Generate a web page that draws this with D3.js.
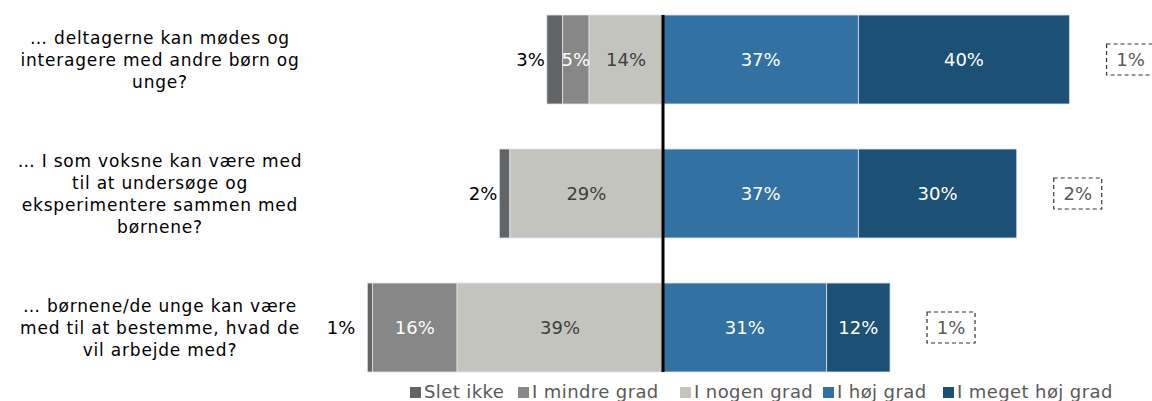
<!DOCTYPE html>
<head>
<meta charset="utf-8">
<script src="https://cdn.jsdelivr.net/npm/d3@7"></script>
<style>
body { margin: 0; background: #fff; }
svg text { font-family: Verdana, "DejaVu Sans", sans-serif; }
</style>
</head>
<body>
<div id="chart"></div>
<script>

// data
var questions = ["q1", "q2", "q3"];
var questionLines = [
  ["… deltagerne kan mødes og", "interagere med andre børn og", "unge?"],
  ["… I som voksne kan være med", "til at undersøge og", "eksperimentere sammen med", "børnene?"],
  ["… børnene/de unge kan være", "med til at bestemme, hvad de", "vil arbejde med?"]
];
var categories = ["Slet ikke", "I mindre grad", "I nogen grad", "I høj grad", "I meget høj grad"];
var sletIkke    = [3, 2, 1];
var mindreGrad  = [5, 0, 16];
var nogenGrad   = [14, 29, 39];
var hojGrad     = [37, 37, 31];
var megetHojGrad = [40, 30, 12];
var vedIkke     = [1, 2, 1];

var colors = ["#636466", "#878787", "#c4c4bf", "#3271a1", "#1d5075"];
var labelColors = ["#000", "#fff", "#404040", "#fff", "#fff"];

var width = 1152, height = 401;

var svg = d3.select("#chart").append("svg")
    .attr("width", width)
    .attr("height", height);

// scales
var pxPerPct = 5.28, zeroX = 663;
var x = d3.scaleLinear().domain([-60, 90]).range([zeroX - 60 * pxPerPct, zeroX + 90 * pxPerPct]);
var y = d3.scaleBand().domain(questions).range([-7.5, 394.5]).paddingInner(0.336).paddingOuter(0.168);

var series = [sletIkke, mindreGrad, nogenGrad, hojGrad, megetHojGrad];

questions.forEach(function(q, i) {
  var neg = sletIkke[i] + mindreGrad[i] + nogenGrad[i];
  var start = -neg;
  var segs = series.map(function(s, k) {
    var d = {k: k, v: s[i], x0: start, x1: start + s[i]};
    start += s[i];
    return d;
  });
  var g = svg.append("g");
  var y0 = y(q), bh = y.bandwidth(), cy = y0 + bh / 2;

  g.selectAll("rect").data(segs.filter(function(d) { return d.v > 0; }))
    .enter().append("rect")
      .attr("x", function(d) { return x(d.x0); })
      .attr("width", function(d) { return x(d.x1) - x(d.x0); })
      .attr("y", y0)
      .attr("height", bh)
      .attr("fill", function(d) { return colors[d.k]; })
      .attr("stroke", "#dde4ea")
      .attr("stroke-width", 0.8);

  g.selectAll("text.val").data(segs.filter(function(d) { return d.v > 0; }))
    .enter().append("text")
      .attr("class", "val")
      .attr("x", function(d) {
        // small first segment gets its label outside, left of the bar
        if (d.k === 0) return x(d.x0) - (d.v < 2 ? 12 : 2);
        return (x(d.x0) + x(d.x1)) / 2;
      })
      .attr("y", cy)
      .attr("dy", "0.36em")
      .attr("text-anchor", function(d) { return d.k === 0 ? "end" : "middle"; })
      .style("font-size", "18px")
      .attr("fill", function(d) { return labelColors[d.k]; })
      .text(function(d) { return d.v + "%"; });

  // no-answer box
  var right = x(hojGrad[i] + megetHojGrad[i]);
  var bx = right + 37, bw = 48, bhh = 31;
  g.append("rect")
    .attr("x", bx).attr("y", cy - bhh / 2)
    .attr("width", bw).attr("height", bhh)
    .attr("fill", "none")
    .attr("stroke", "#333")
    .attr("stroke-width", 1.2)
    .attr("stroke-dasharray", "4,3");
  g.append("text")
    .attr("x", bx + bw / 2).attr("y", cy)
    .attr("dy", "0.36em")
    .attr("text-anchor", "middle")
    .style("font-size", "18px")
    .attr("fill", "#595959")
    .text(vedIkke[i] + "%");

  // question label
  var lines = questionLines[i], lh = 22;
  var t = svg.append("text")
    .attr("text-anchor", "middle")
    .style("font-size", "17px")
    .style("letter-spacing", "0.8px")
    .attr("fill", "#000");
  lines.forEach(function(l, j) {
    t.append("tspan")
      .attr("x", 160)
      .attr("y", cy + (j - (lines.length - 1) / 2) * lh)
      .attr("dy", "0.36em")
      .text(l);
  });
});

// center line
svg.append("line")
  .attr("x1", x(0)).attr("x2", x(0))
  .attr("y1", y(questions[0]))
  .attr("y2", y(questions[2]) + y.bandwidth())
  .attr("stroke", "#000")
  .attr("stroke-width", 3);

// legend
var legendX = [410, 518, 680, 823, 943];
var legend = svg.append("g");
categories.forEach(function(c, k) {
  legend.append("rect")
    .attr("x", legendX[k]).attr("y", 387)
    .attr("width", 11).attr("height", 11)
    .attr("fill", colors[k]);
  legend.append("text")
    .attr("x", legendX[k] + 14).attr("y", 398)
    .style("font-size", "18px")
    .style("letter-spacing", "0.4px")
    .attr("fill", "#595959")
    .text(c);
});

</script>
</body>
